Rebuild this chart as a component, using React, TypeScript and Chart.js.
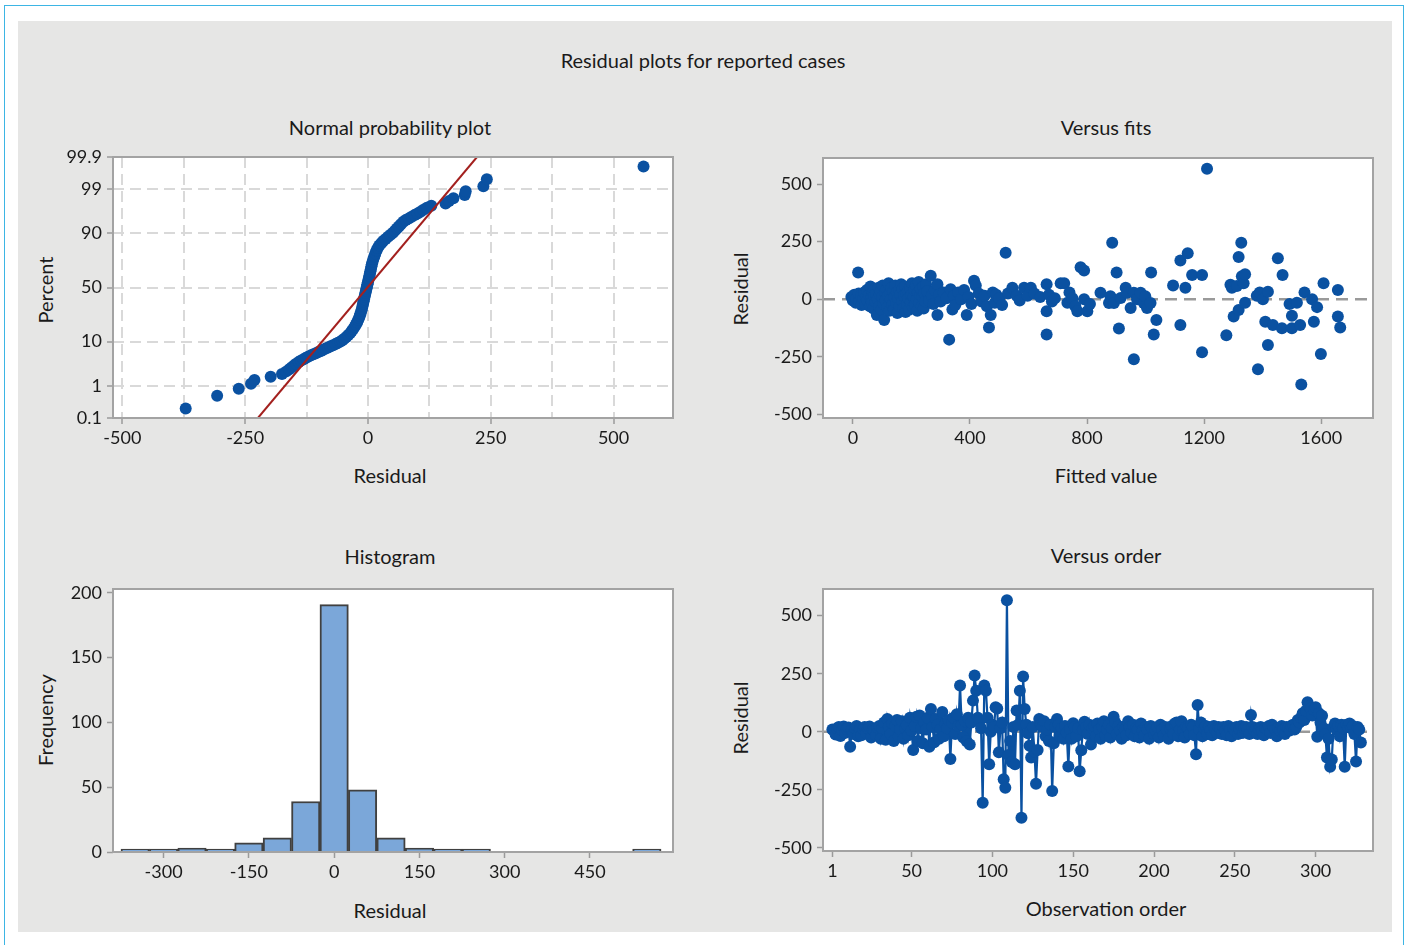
import { useEffect, useRef } from "react";
import { Chart, registerables } from "chart.js";

Chart.register(...registerables);

// ---------------- DATA ----------------
// Normal probability plot: residual vs. percent (median ranks)
const normResid = [
  -371, -307, -263, -238, -231, -198, -175, -166, -160, -155, -150, -146, -141, -136, -131, -126, -121, -116, -111, -106,
  -101, -96, -91, -86, -81, -76, -71, -66, -61, -56, -52, -48, -44, -40, -36, -33, -30, -27, -24.5, -22,
  -20, -18, -16.5, -15, -13.5, -12, -11, -10, -9, -8, -7, -6, -5, -4, -3, -2, -1, 0, 1, 2,
  3, 4, 5, 6, 7, 8, 9.5, 11, 13, 15, 17.5, 20, 23, 27, 31, 36, 41, 46, 51, 55,
  59, 63, 67, 72, 77, 83, 89, 95, 101, 107, 113, 120, 129, 158, 165, 174, 197, 199, 235, 242, 561,
];
const normPct = [
  0.21, 0.52, 0.82, 1.13, 1.43, 1.74, 2.04, 2.35, 2.65, 2.96, 3.26, 3.57, 3.87, 4.18, 4.48, 4.79, 5.1, 5.4, 5.7, 6.0,
  6.3, 6.6, 7.0, 7.4, 7.8, 8.2, 8.6, 9.0, 9.5, 10.0, 10.6, 11.3, 12.1, 13.0, 14.0, 15.1, 16.3, 17.6, 19.0, 20.5,
  22, 23.6, 25.3, 27, 29, 31, 33, 35, 37, 39, 41, 43, 45, 47, 49, 51, 53, 55, 57, 59,
  61, 63, 65, 67, 69, 71, 73, 75, 77, 79, 81, 82.5, 84, 85.3, 86.4, 87.5, 88.5, 89.4, 90.3, 91.1,
  91.9, 92.6, 93.3, 94.0, 94.5, 94.9, 95.3, 95.7, 96.0, 96.35, 96.7, 97.04, 97.35, 97.65, 97.96, 98.26, 98.57, 98.87, 99.18, 99.48, 99.79,
];
const fitLineResid = [-224, 222];
const fitLinePct = [0.1, 99.9];
const probPctTicks = [0.1, 1, 10, 50, 90, 99, 99.9];
const probPctLabels = ["0.1", "1", "10", "50", "90", "99", "99.9"];
const probResidTicks = [-500, -375, -250, -125, 0, 125, 250, 375, 500];

// Versus fits
const fitsX = [
  -5, 0, 5, 10, 12, 18, 20, 22, 28, 30, 35, 38, 42, 45, 48, 50, 55, 58, 60, 62,
  65, 68, 70, 72, 75, 78, 80, 82, 85, 88, 90, 92, 95, 98, 100, 102, 105, 107, 110, 112,
  115, 118, 120, 122, 125, 128, 130, 132, 135, 138, 140, 142, 145, 148, 150, 152, 155, 158, 160, 162,
  165, 168, 170, 172, 175, 178, 180, 182, 185, 188, 190, 192, 195, 198, 200, 202, 205, 208, 210, 212,
  215, 218, 220, 222, 225, 228, 230, 232, 235, 238, 240, 242, 245, 248, 250, 255, 260, 266, 270, 275,
  280, 289, 289, 295, 300, 310, 320, 329, 334, 340, 345, 350, 360, 370, 380, 389, 395, 405, 414, 420,
  430, 440, 450, 458, 465, 471, 478, 485, 490, 500, 510, 522, 530, 545, 560, 570, 585, 597, 608, 620,
  640, 662, 662, 662, 670, 680, 690, 710, 722, 733, 740, 750, 760, 767, 778, 790, 790, 801, 810, 846,
  875, 880, 886, 892, 901, 909, 915, 932, 937, 949, 960, 960, 971, 983, 994, 999, 1005, 1017, 1019, 1028,
  1037, 1094, 1119, 1119, 1136, 1144, 1159, 1193, 1193, 1210, 1276, 1290, 1295, 1301, 1312, 1318, 1318, 1327, 1329, 1335,
  1340, 1340, 1380, 1384, 1390, 1401, 1409, 1418, 1418, 1435, 1452, 1466, 1468, 1492, 1500, 1500, 1517, 1528, 1532, 1543,
  1569, 1575, 1586, 1599, 1608, 1657, 1657, 1665,
];
const fitsY = [
  10, -5, 20, -15, 5, 116, 25, -10, 15, -25, 5, 30, -20, 10, 40, -5, 20, -30, 55, 5,
  -15, 30, -40, 15, 45, -10, 25, -68, 0, 50, -30, 20, 35, -45, 10, 60, -20, -90, 30, -5,
  45, -35, 15, 70, -50, 25, 0, 50, -25, 35, -45, 10, 60, -15, 30, -60, 5, 40, -30, 20,
  65, -10, 45, -40, 15, 55, -55, 25, -20, 35, 5, -45, 50, -15, 20, 70, -35, 10, 40, -25,
  60, 0, -50, 30, 75, -15, 20, 45, -30, 10, 55, -40, 25, -10, 65, 35, -5, 102, 15, -20,
  40, 65, -68, 20, -10, 30, 5, -175, 44, -44, 15, -25, 30, 0, 40, -68, 10, -20, 80, 60,
  25, -10, 15, -30, -122, -68, 30, -15, 20, 5, -25, 202, 25, 50, 15, -5, 50, 15, 50, 25,
  10, 65, -52, -153, 20, -10, 5, 70, 70, -15, 30, 5, -30, -52, 139, 125, 0, -52, -20, 28,
  -16, 13, 245, -16, 116, -127, 6, 50, 28, -38, 28, -260, 0, 28, -16, 13, -38, -16, 116, -153,
  -90, 60, 168, -112, 50, 200, 105, 105, -230, 566, -156, 63, 50, -75, 58, -46, 183, 245, 100, 70,
  109, -15, 15, -304, 30, 0, -97, 33, -198, -112, 178, -126, 105, -20, -126, -71, -15, -112, -370, 30,
  0, -97, -34, -237, 70, 40, -75, -122,
];
const fitsXTicks = [0, 400, 800, 1200, 1600];
const residTicks = [-500, -250, 0, 250, 500];

// Histogram
const histCenters = [-350, -300, -250, -200, -150, -100, -50, 0, 50, 100, 150, 200, 250, 300, 350, 400, 450, 500, 550];
const histCounts = [1, 1, 3, 1, 7, 11, 39, 191, 48, 11, 3, 1, 1, 0, 0, 0, 0, 0, 1];
const histXTicks = [-300, -150, 0, 150, 300, 450];
const histYTicks = [0, 50, 100, 150, 200];

// Versus order (observations 1..328)
const orderResid = [
  10, 5, -12, 15, 20, -18, 8, 22, -5, 12, 18, -65, 6, -10, 15, 25, -20, 8, -15, 12,
  20, -8, 14, 22, -25, 10, 5, -15, 18, 25, -30, 15, 40, -35, 55, 20, -10, 35, -40, 25,
  50, -20, 10, 45, -30, 15, 30, -15, 60, 5, -79, 25, 65, -40, 70, 15, -50, 40, 10, 60,
  -65, 98, 20, -45, 55, 30, -30, 10, 85, -20, 35, 15, 50, -118, 40, 60, -10, 75, 25, 199,
  30, -25, 45, -40, 60, -55, 40, 134, 242, 177, 60, 50, 15, -306, 199, 177, 60, -140, 0, 30,
  20, 105, 100, -89, 15, 40, -205, -241, 567, -100, -40, -130, 20, -140, 91, 30, 177, -371, 238, 98,
  30, -7, -60, -111, 20, -85, -224, -79, 55, 30, 20, 45, -20, 10, -40, 30, -255, -50, 20, 55,
  30, -20, 15, -30, 25, -5, -150, 10, -30, 36, 20, -20, 15, -170, -80, 10, 43, 20, -10, 30,
  -55, 15, 25, -20, 35, 10, -30, 20, 45, -15, 10, 30, -25, 15, 65, 40, -10, 25, 5, -30,
  20, 10, -15, 45, 20, -5, 30, -20, 15, 10, -25, 35, 5, -15, 20, 10, -30, 25, 15, -10,
  5, 20, -25, 30, 10, -15, 20, 5, -30, 15, 25, -10, 35, 40, -20, 10, 45, 5, -25, 20,
  15, -10, 30, 20, -15, -97, 115, 10, 40, -20, 15, 25, -10, 20, 5, -15, 25, 10, -5, 20,
  15, -10, 20, 5, -15, 25, 10, -20, 15, 5, 20, -10, 10, 25, -5, 15, 20, 10, -10, 72,
  20, 5, 15, -10, 10, 20, 5, -15, 15, 10, 25, -5, 30, 20, 10, -20, 15, 5, 25, 10,
  -10, 20, 15, 5, 25, 30, 10, 20, 50, 40, 60, 80, 50, 90, 127, 110, 100, 70, 95, 105,
  -22, 80, 40, 69, 15, -10, -111, -30, -151, -120, 20, 35, 10, 25, -20, 30, 15, -151, 30, 20,
  35, 15, 25, -10, -128, 20, 10, -46,
];
const orderXTicks = [1, 50, 100, 150, 200, 250, 300];

// ---------------- STYLE ----------------
const FONT = "Lato, 'Open Sans', sans-serif";
const BLUE = "#0a51a1";
const BOX_GRAY = "#a3a3a3";
const TICK_GRAY = "#9a9a9a";
const TEXT = "#1a1a1a";
const PAD_T = 15;
const PAD_R = 30;
const Y_W = 100;
const X_H = 45;
const PT_R = 6;

Chart.defaults.font.family = FONT;

function probit(p: number): number {
  const a = [-3.969683028665376e1, 2.209460984245205e2, -2.759285104469687e2, 1.38357751867269e2, -3.066479806614716e1, 2.506628277459239];
  const b = [-5.447609879822406e1, 1.615858368580409e2, -1.556989798598866e2, 6.680131188771972e1, -1.328068155288572e1];
  const c = [-7.784894002430293e-3, -3.223964580411365e-1, -2.400758277161838, -2.549732539343734, 4.374664141464968, 2.938163982698783];
  const d = [7.784695709041462e-3, 3.224671290700398e-1, 2.445134137142996, 3.754408661907416];
  const plow = 0.02425;
  if (p < plow) {
    const q = Math.sqrt(-2 * Math.log(p));
    return (((((c[0] * q + c[1]) * q + c[2]) * q + c[3]) * q + c[4]) * q + c[5]) / ((((d[0] * q + d[1]) * q + d[2]) * q + d[3]) * q + 1);
  }
  if (p <= 1 - plow) {
    const q = p - 0.5;
    const r = q * q;
    return ((((((a[0] * r + a[1]) * r + a[2]) * r + a[3]) * r + a[4]) * r + a[5]) * q) / (((((b[0] * r + b[1]) * r + b[2]) * r + b[3]) * r + b[4]) * r + 1);
  }
  const q = Math.sqrt(-2 * Math.log(1 - p));
  return -(((((c[0] * q + c[1]) * q + c[2]) * q + c[3]) * q + c[4]) * q + c[5]) / ((((d[0] * q + d[1]) * q + d[2]) * q + d[3]) * q + 1);
}

const boxPlugin = {
  id: "boxFrame",
  afterDatasetsDraw(chart: any) {
    const { left, top, right, bottom } = chart.chartArea;
    const ctx = chart.ctx;
    ctx.save();
    ctx.strokeStyle = BOX_GRAY;
    ctx.lineWidth = 2;
    ctx.setLineDash([]);
    ctx.strokeRect(left, top, right - left, bottom - top);
    ctx.restore();
  },
};

const tickFont = { family: FONT, size: 18 };

function xAxis(min: number, max: number, values: number[], label: (v: number, i: number) => string, grid: any, dash: number[] = []) {
  return {
    type: "linear",
    position: "bottom",
    offset: false,
    min,
    max,
    afterBuildTicks: (s: any) => {
      s.ticks = values.map((v) => ({ value: v }));
    },
    afterFit: (s: any) => {
      s.height = X_H;
      s.paddingLeft = 0;
      s.paddingRight = 0;
    },
    ticks: { autoSkip: false, maxRotation: 0, minRotation: 0, color: TEXT, font: tickFont, padding: 3, callback: (v: number, i: number) => label(v, i) },
    grid: { offset: false, ...grid },
    border: { display: false, dash },
  };
}

function yAxis(min: number, max: number, values: number[], label: (v: number, i: number) => string, grid: any, dash: number[] = []) {
  return {
    type: "linear",
    position: "left",
    min,
    max,
    afterBuildTicks: (s: any) => {
      s.ticks = values.map((v) => ({ value: v }));
    },
    afterFit: (s: any) => {
      s.width = Y_W;
      s.paddingTop = 0;
      s.paddingBottom = 0;
    },
    ticks: { autoSkip: false, color: TEXT, font: tickFont, padding: 5, callback: (v: number, i: number) => label(v, i) },
    grid,
    border: { display: false, dash },
  };
}

const plainGrid = { drawOnChartArea: false, drawTicks: true, tickLength: 6, tickColor: TICK_GRAY, tickWidth: 1.5 };

function baseOptions(scales: any) {
  return {
    responsive: false,
    animation: false,
    events: [],
    layout: { padding: { top: PAD_T, right: PAD_R, left: 0, bottom: 0 } },
    plugins: { legend: { display: false }, tooltip: { enabled: false }, title: { display: false } },
    scales,
  };
}

// ---------------- CHART CONFIGS ----------------
const zMin = probit(0.001);
const zMax = probit(0.999);

function probConfig(): any {
  const pts = normResid.map((r, i) => ({ x: r, y: probit(normPct[i] / 100) }));
  const line = fitLineResid.map((r, i) => ({ x: r, y: probit(fitLinePct[i] / 100) }));
  return {
    type: "scatter",
    data: {
      datasets: [
        { data: line, showLine: true, borderColor: "#a3201e", borderWidth: 2, pointRadius: 0, order: 0 },
        { data: pts, pointRadius: PT_R, pointBackgroundColor: BLUE, pointBorderWidth: 0, order: 1 },
      ],
    },
    options: baseOptions({
      x: xAxis(
        -519,
        621,
        probResidTicks,
        (v) => (v % 250 === 0 ? String(v) : ""),
        {
          drawOnChartArea: true,
          drawTicks: true,
          tickLength: 6,
          color: "#d9d9d9",
          lineWidth: 2,
          tickColor: (c: any) => (c.tick && c.tick.value % 250 === 0 ? TICK_GRAY : "rgba(0,0,0,0)"),
          tickWidth: 1.5,
          tickBorderDash: [],
        },
        [11, 6]
      ),
      y: yAxis(
        zMin,
        zMax,
        probPctTicks.map((p) => probit(p / 100)),
        (_v, i) => probPctLabels[i],
        {
          drawOnChartArea: true,
          drawTicks: true,
          tickLength: 6,
          color: (c: any) => (c.index === 0 || c.index === probPctTicks.length - 1 ? "rgba(0,0,0,0)" : "#d9d9d9"),
          lineWidth: 2,
          tickColor: TICK_GRAY,
          tickWidth: 1.5,
          tickBorderDash: [],
        },
        [11, 6]
      ),
    }),
    plugins: [boxPlugin],
  };
}

function fitsConfig(): any {
  const pts = fitsX.map((x, i) => ({ x, y: fitsY[i] }));
  return {
    type: "scatter",
    data: {
      datasets: [
        { data: pts, pointRadius: PT_R, pointBackgroundColor: BLUE, pointBorderWidth: 0, order: 1 },
        { data: [{ x: -102, y: 0 }, { x: 1777, y: 0 }], showLine: true, borderColor: "#9a9a9a", borderWidth: 2.5, borderDash: [12, 7], pointRadius: 0, order: 2 },
      ],
    },
    options: baseOptions({
      x: xAxis(-102, 1777, fitsXTicks, (v) => String(v), plainGrid),
      y: yAxis(-515, 613, residTicks, (v) => String(v), plainGrid),
    }),
    plugins: [boxPlugin],
  };
}

function histConfig(): any {
  const bars = histCenters.map((x, i) => ({ x, y: histCounts[i] === 0 ? null : histCounts[i] }));
  return {
    type: "bar",
    data: {
      datasets: [
        {
          data: bars,
          backgroundColor: "#7ba7d9",
          borderColor: "#404040",
          borderWidth: 2,
          borderSkipped: "start",
          barPercentage: 1,
          categoryPercentage: 1,
          minBarLength: 3,
        },
      ],
    },
    options: baseOptions({
      x: xAxis(-389, 596, histXTicks, (v) => String(v), plainGrid),
      y: yAxis(0, 203, histYTicks, (v) => String(v), plainGrid),
    }),
    plugins: [boxPlugin],
  };
}

function orderConfig(): any {
  const pts = orderResid.map((y, i) => ({ x: i + 1, y }));
  return {
    type: "scatter",
    data: {
      datasets: [
        { data: pts, showLine: true, borderColor: BLUE, borderWidth: 2.2, pointRadius: PT_R, pointBackgroundColor: BLUE, pointBorderWidth: 0, order: 1 },
        { data: [{ x: -4.8, y: 0 }, { x: 335.5, y: 0 }], showLine: true, borderColor: "#9a9a9a", borderWidth: 2.5, borderDash: [12, 7], pointRadius: 0, order: 2 },
      ],
    },
    options: baseOptions({
      x: xAxis(-4.8, 335.5, orderXTicks, (v) => String(v), plainGrid),
      y: yAxis(-514, 615, residTicks, (v) => String(v), plainGrid),
    }),
    plugins: [boxPlugin],
  };
}

// ---------------- COMPONENTS ----------------
type Box = { l: number; t: number; r: number; b: number };

function ChartPanel({ box, make }: { box: Box; make: () => any }) {
  const ref = useRef<HTMLCanvasElement>(null);
  const width = box.r - box.l + Y_W + PAD_R;
  const height = box.b - box.t + PAD_T + X_H;
  useEffect(() => {
    const chart = new Chart(ref.current as HTMLCanvasElement, make());
    return () => chart.destroy();
  }, []);
  return (
    <canvas
      ref={ref}
      width={width}
      height={height}
      style={{ position: "absolute", left: box.l - Y_W, top: box.t - PAD_T, width, height }}
    />
  );
}

function Label({ text, x, y, rotate, size = 20 }: { text: string; x: number; y: number; rotate?: boolean; size?: number }) {
  return (
    <div
      style={{
        position: "absolute",
        left: x,
        top: y,
        transform: `translate(-50%, -50%)${rotate ? " rotate(-90deg)" : ""}`,
        fontFamily: FONT,
        fontSize: size,
        color: TEXT,
        whiteSpace: "nowrap",
        lineHeight: 1,
      }}
    >
      {text}
    </div>
  );
}

const BOX_PROB: Box = { l: 113, t: 157, r: 673, b: 418 };
const BOX_FITS: Box = { l: 823, t: 158, r: 1373, b: 418 };
const BOX_HIST: Box = { l: 113, t: 589, r: 673, b: 852 };
const BOX_ORDER: Box = { l: 823, t: 589, r: 1373, b: 851 };

export default function App() {
  return (
    <div style={{ position: "absolute", left: 0, top: 0, width: 1407, height: 945, background: "#ffffff", overflow: "hidden" }}>
      <div style={{ position: "absolute", left: 4, top: 5, width: 1400, height: 980, border: "1.5px solid #3db5e4", boxSizing: "border-box" }} />
      <div style={{ position: "absolute", left: 18, top: 21, width: 1374, height: 911, background: "#e6e6e5" }} />

      <Label text="Residual plots for reported cases" x={703} y={60} />
      <Label text="Normal probability plot" x={390} y={127} />
      <Label text="Versus fits" x={1106} y={127} />
      <Label text="Histogram" x={390} y={556} />
      <Label text="Versus order" x={1106} y={555} />
      <Label text="Residual" x={390} y={475} />
      <Label text="Fitted value" x={1106} y={475} />
      <Label text="Residual" x={390} y={910} />
      <Label text="Observation order" x={1106} y={908} />
      <Label text="Percent" x={45} y={290} rotate />
      <Label text="Residual" x={740} y={289} rotate />
      <Label text="Frequency" x={45} y={720} rotate />
      <Label text="Residual" x={740} y={718} rotate />

      <div style={{ position: "absolute", left: BOX_PROB.l, top: BOX_PROB.t, width: BOX_PROB.r - BOX_PROB.l, height: BOX_PROB.b - BOX_PROB.t, background: "#fff" }} />
      <div style={{ position: "absolute", left: BOX_FITS.l, top: BOX_FITS.t, width: BOX_FITS.r - BOX_FITS.l, height: BOX_FITS.b - BOX_FITS.t, background: "#fff" }} />
      <div style={{ position: "absolute", left: BOX_HIST.l, top: BOX_HIST.t, width: BOX_HIST.r - BOX_HIST.l, height: BOX_HIST.b - BOX_HIST.t, background: "#fff" }} />
      <div style={{ position: "absolute", left: BOX_ORDER.l, top: BOX_ORDER.t, width: BOX_ORDER.r - BOX_ORDER.l, height: BOX_ORDER.b - BOX_ORDER.t, background: "#fff" }} />

      <ChartPanel box={BOX_PROB} make={probConfig} />
      <ChartPanel box={BOX_FITS} make={fitsConfig} />
      <ChartPanel box={BOX_HIST} make={histConfig} />
      <ChartPanel box={BOX_ORDER} make={orderConfig} />
    </div>
  );
}
